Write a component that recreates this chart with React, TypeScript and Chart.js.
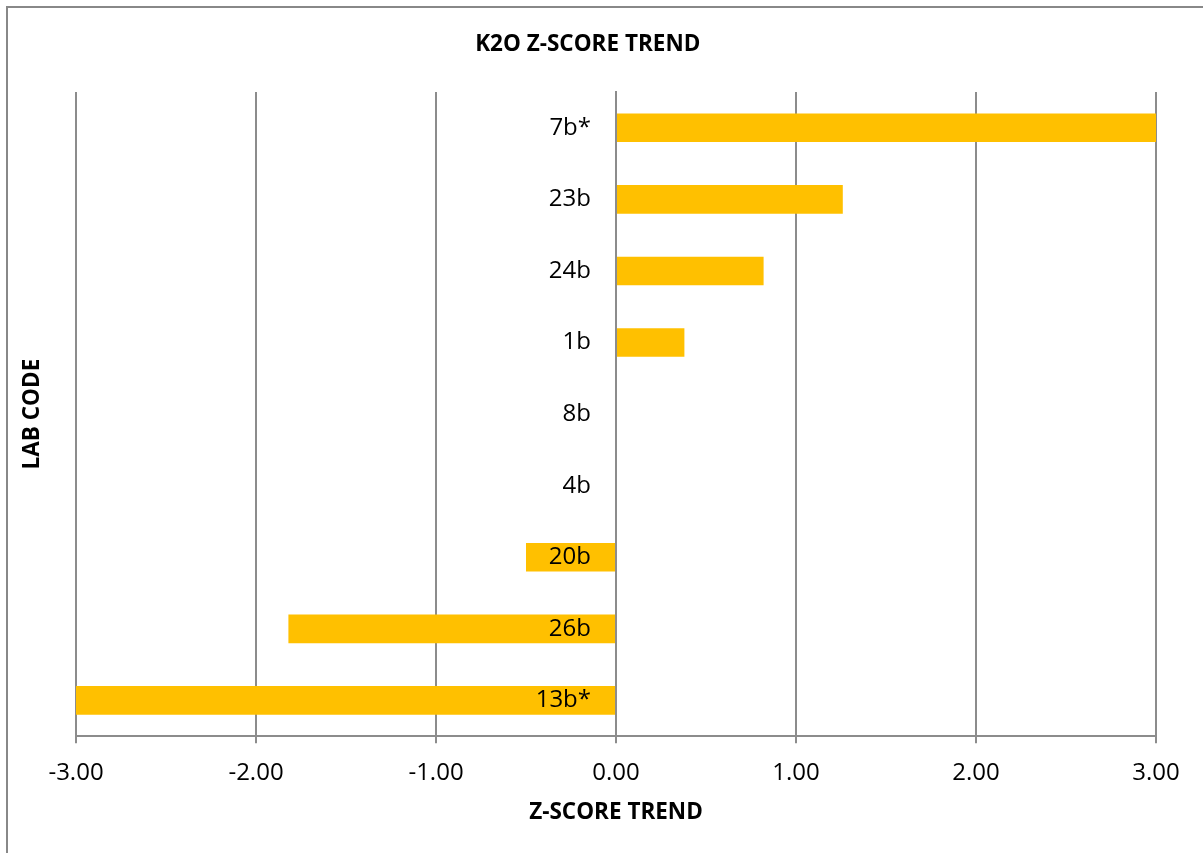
import React, { useEffect, useRef } from "react";
import { Chart, registerables } from "chart.js";

Chart.register(...registerables);

const labCodes = ["7b*", "23b", "24b", "1b", "8b", "4b", "20b", "26b", "13b*"];
const zScores = [3.0, 1.26, 0.82, 0.38, 0, 0, -0.5, -1.82, -3.0];
const xTicksMin = -3;
const xTicksMax = 3;

const FONT = "'Open Sans', 'DejaVu Sans', sans-serif";
const GRID = "#8c8c8c";

const centerLabels = {
  id: "centerLabels",
  afterDatasetsDraw(chart: any) {
    const ys = chart.scales.y;
    const xs = chart.scales.x;
    const ctx = chart.ctx;
    const x0 = xs.getPixelForValue(0) - 25;
    ctx.save();
    ctx.fillStyle = "#000";
    ctx.font = `24px ${FONT}`;
    ctx.textAlign = "right";
    ctx.textBaseline = "middle";
    const labels = chart.data.labels as string[];
    labels.forEach((lab, i) => {
      ctx.fillText(lab, x0, ys.getPixelForValue(i));
    });
    ctx.restore();
  },
};

export default function App() {
  const ref = useRef<HTMLCanvasElement | null>(null);

  useEffect(() => {
    if (!ref.current) return;
    const chart = new Chart(ref.current, {
      type: "bar",
      data: {
        labels: labCodes,
        datasets: [
          {
            data: zScores,
            backgroundColor: "#FFC000",
            borderWidth: 0,
            categoryPercentage: 0.8,
            barPercentage: 0.5,
          },
        ],
      },
      options: {
        indexAxis: "y",
        responsive: false,
        animation: false,
        devicePixelRatio: 1,
        layout: { padding: { left: 19.5, right: 47, top: 0, bottom: 26.5 } },
        plugins: {
          legend: { display: false },
          tooltip: { enabled: false },
          title: {
            display: true,
            text: "K2O Z-SCORE TREND",
            color: "#000",
            font: { family: FONT, size: 22.5, weight: "bold", lineHeight: 1.2 },
            padding: { top: 31.5, bottom: 33.5 },
          },
        },
        scales: {
          x: {
            type: "linear",
            min: xTicksMin,
            max: xTicksMax,
            ticks: {
              stepSize: 1,
              color: "#000",
              padding: 16,
              font: { family: FONT, size: 24, lineHeight: 1.2 },
              callback: (v: any) => Number(v).toFixed(2),
            },
            grid: {
              color: GRID,
              lineWidth: 2,
              drawTicks: true,
              tickLength: 7,
              tickColor: GRID,
            },
            border: { display: true, color: GRID, width: 2 },
            title: {
              display: true,
              text: "Z-SCORE TREND",
              color: "#000",
              font: { family: FONT, size: 22.5, weight: "bold", lineHeight: 1.2 },
              padding: { top: -4.5, bottom: 0 },
            },
          },
          y: {
            type: "category",
            position: { x: 0 } as any,
            ticks: { display: false },
            grid: { display: false, drawTicks: false },
            border: { display: true, color: GRID, width: 2 },
          },
          y2: {
            type: "category",
            axis: "y",
            position: "left",
            ticks: { display: false },
            grid: { display: false, drawTicks: false },
            border: { display: false },
            title: {
              display: true,
              text: "LAB CODE",
              color: "#000",
              font: { family: FONT, size: 22.5, weight: "bold", lineHeight: 1.2 },
              padding: { top: 0, bottom: 29.5 },
            },
          },
        },
      } as any,
      plugins: [centerLabels],
    });
    return () => chart.destroy();
  }, []);

  return (
    <div
      style={{
        position: "absolute",
        left: 0,
        top: 0,
        width: 1203,
        height: 853,
        overflow: "hidden",
        background: "#fff",
      }}
    >
      <div
        style={{
          position: "absolute",
          left: 6,
          top: 6,
          width: 1300,
          height: 1000,
          border: "2px solid #888",
          boxSizing: "border-box",
        }}
      />
      <canvas
        ref={ref}
        width={1203}
        height={853}
        style={{ position: "absolute", left: 0, top: 0, width: 1203, height: 853 }}
      />
    </div>
  );
}
